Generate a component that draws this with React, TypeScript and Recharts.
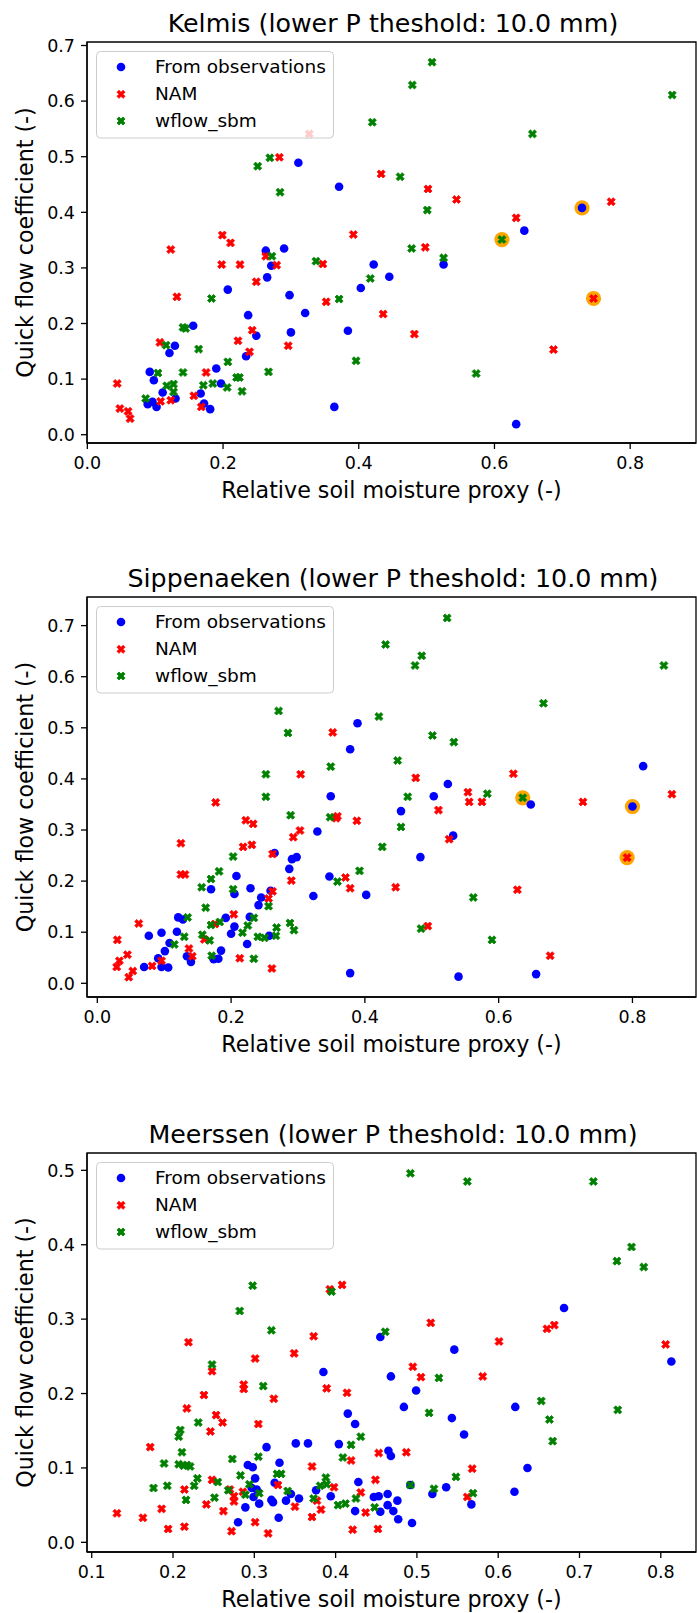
import React from "react";
import { ScatterChart, Scatter, XAxis, YAxis, ReferenceArea, Legend } from "recharts";

type Pt = [number, number];

// Kelmis
const kelmisObs: Pt[] = [
  [0.311, 0.489], [0.371, 0.446], [0.263, 0.331], [0.29, 0.335], [0.271, 0.304], [0.422, 0.306],
  [0.445, 0.284], [0.265, 0.283], [0.207, 0.261], [0.403, 0.264], [0.298, 0.251], [0.321, 0.219],
  [0.237, 0.215], [0.156, 0.196], [0.384, 0.187], [0.3, 0.184], [0.249, 0.178], [0.129, 0.16],
  [0.121, 0.147], [0.234, 0.141], [0.19, 0.119], [0.092, 0.113], [0.098, 0.098], [0.197, 0.092],
  [0.111, 0.076], [0.167, 0.074], [0.13, 0.065], [0.096, 0.059], [0.089, 0.055], [0.102, 0.05],
  [0.172, 0.056], [0.181, 0.046], [0.364, 0.05], [0.525, 0.306], [0.644, 0.367], [0.729, 0.408],
  [0.632, 0.019],
];
const kelmisNam: Pt[] = [
  [0.327, 0.541], [0.283, 0.499], [0.433, 0.469], [0.199, 0.359], [0.211, 0.345], [0.123, 0.333],
  [0.392, 0.36], [0.263, 0.321], [0.198, 0.306], [0.225, 0.306], [0.279, 0.305], [0.347, 0.307],
  [0.249, 0.275], [0.132, 0.248], [0.352, 0.239], [0.436, 0.217], [0.243, 0.188], [0.222, 0.169],
  [0.107, 0.166], [0.296, 0.16], [0.239, 0.149], [0.175, 0.112], [0.044, 0.092], [0.157, 0.07],
  [0.123, 0.062], [0.108, 0.06], [0.168, 0.05], [0.048, 0.047], [0.06, 0.042], [0.063, 0.029],
  [0.502, 0.442], [0.544, 0.423], [0.772, 0.419], [0.632, 0.39], [0.498, 0.337], [0.482, 0.181],
  [0.687, 0.153], [0.746, 0.245],
];
const kelmisWflow: Pt[] = [
  [0.42, 0.562], [0.251, 0.483], [0.269, 0.498], [0.461, 0.464], [0.284, 0.436], [0.272, 0.321],
  [0.337, 0.312], [0.508, 0.67], [0.479, 0.629], [0.862, 0.611], [0.656, 0.541], [0.501, 0.404],
  [0.611, 0.351], [0.478, 0.335], [0.525, 0.318], [0.417, 0.281], [0.183, 0.245], [0.371, 0.244],
  [0.145, 0.191], [0.141, 0.193], [0.116, 0.161], [0.164, 0.154], [0.207, 0.131], [0.396, 0.133],
  [0.104, 0.111], [0.141, 0.112], [0.267, 0.113], [0.22, 0.103], [0.224, 0.103], [0.185, 0.092],
  [0.171, 0.089], [0.127, 0.091], [0.117, 0.088], [0.206, 0.085], [0.127, 0.077], [0.228, 0.078],
  [0.086, 0.065], [0.573, 0.11],
];
const kelmisHigh: Pt[] = [[0.729, 0.408], [0.611, 0.351], [0.746, 0.245]];

// Sippenaeken
const sippObs: Pt[] = [
  [0.389, 0.509], [0.378, 0.458], [0.349, 0.366], [0.816, 0.425], [0.524, 0.39], [0.503, 0.366],
  [0.648, 0.35], [0.8, 0.346], [0.454, 0.337], [0.532, 0.289], [0.483, 0.247], [0.54, 0.013],
  [0.656, 0.018], [0.329, 0.297], [0.265, 0.255], [0.291, 0.243], [0.298, 0.247], [0.287, 0.224],
  [0.208, 0.21], [0.347, 0.209], [0.17, 0.184], [0.229, 0.186], [0.205, 0.175], [0.259, 0.181],
  [0.402, 0.173], [0.323, 0.171], [0.245, 0.168], [0.241, 0.153], [0.121, 0.129], [0.128, 0.125],
  [0.192, 0.128], [0.228, 0.13], [0.205, 0.111], [0.119, 0.101], [0.077, 0.093], [0.096, 0.099],
  [0.2, 0.097], [0.257, 0.093], [0.108, 0.079], [0.224, 0.077], [0.101, 0.063], [0.185, 0.064],
  [0.134, 0.053], [0.091, 0.049], [0.14, 0.042], [0.174, 0.047], [0.181, 0.048], [0.07, 0.032],
  [0.096, 0.032], [0.106, 0.031], [0.378, 0.02],
];
const sippNam: Pt[] = [
  [0.352, 0.491], [0.304, 0.409], [0.177, 0.354], [0.476, 0.402], [0.622, 0.41], [0.554, 0.374],
  [0.556, 0.355], [0.575, 0.355], [0.726, 0.355], [0.859, 0.37], [0.51, 0.339], [0.526, 0.282],
  [0.792, 0.246], [0.446, 0.188], [0.628, 0.183], [0.494, 0.112], [0.677, 0.054], [0.357, 0.323],
  [0.359, 0.327], [0.388, 0.318], [0.222, 0.319], [0.233, 0.312], [0.303, 0.299], [0.293, 0.286],
  [0.125, 0.274], [0.218, 0.267], [0.231, 0.271], [0.262, 0.253], [0.125, 0.213], [0.131, 0.213],
  [0.371, 0.207], [0.29, 0.201], [0.378, 0.186], [0.262, 0.18], [0.256, 0.166], [0.204, 0.135],
  [0.062, 0.117], [0.176, 0.116], [0.03, 0.085], [0.16, 0.086], [0.137, 0.068], [0.045, 0.056],
  [0.142, 0.053], [0.213, 0.049], [0.033, 0.044], [0.096, 0.044], [0.082, 0.034], [0.029, 0.032],
  [0.053, 0.024], [0.047, 0.012], [0.261, 0.029],
];
const sippWflow: Pt[] = [
  [0.431, 0.663], [0.271, 0.533], [0.421, 0.522], [0.285, 0.49], [0.449, 0.436], [0.252, 0.409],
  [0.349, 0.424], [0.252, 0.365], [0.523, 0.715], [0.485, 0.641], [0.475, 0.622], [0.847, 0.622],
  [0.667, 0.548], [0.501, 0.485], [0.533, 0.472], [0.464, 0.365], [0.583, 0.371], [0.636, 0.363],
  [0.454, 0.306], [0.562, 0.168], [0.484, 0.107], [0.59, 0.085], [0.289, 0.329], [0.348, 0.325],
  [0.426, 0.267], [0.203, 0.248], [0.182, 0.219], [0.392, 0.22], [0.17, 0.204], [0.359, 0.199],
  [0.156, 0.188], [0.203, 0.184], [0.256, 0.151], [0.162, 0.148], [0.135, 0.129], [0.234, 0.128],
  [0.183, 0.12], [0.17, 0.114], [0.225, 0.113], [0.288, 0.118], [0.268, 0.109], [0.294, 0.104],
  [0.217, 0.099], [0.13, 0.091], [0.157, 0.095], [0.24, 0.091], [0.25, 0.089], [0.267, 0.093],
  [0.168, 0.084], [0.115, 0.076], [0.171, 0.054], [0.234, 0.048],
];
const sippHigh: Pt[] = [[0.636, 0.363], [0.8, 0.346], [0.792, 0.246]];

// Meerssen
const meerObs: Pt[] = [
  [0.455, 0.276], [0.681, 0.315], [0.546, 0.259], [0.813, 0.243], [0.385, 0.229], [0.468, 0.223],
  [0.415, 0.173], [0.424, 0.159], [0.351, 0.133], [0.366, 0.133], [0.404, 0.132], [0.315, 0.128],
  [0.465, 0.123], [0.468, 0.116], [0.331, 0.107], [0.292, 0.104], [0.298, 0.101], [0.301, 0.086],
  [0.325, 0.08], [0.297, 0.073], [0.303, 0.071], [0.376, 0.07], [0.428, 0.081], [0.345, 0.065],
  [0.447, 0.061], [0.453, 0.062], [0.464, 0.065], [0.476, 0.056], [0.355, 0.059], [0.394, 0.062],
  [0.321, 0.057], [0.323, 0.054], [0.339, 0.056], [0.299, 0.061], [0.306, 0.052], [0.464, 0.05],
  [0.289, 0.047], [0.424, 0.042], [0.455, 0.041], [0.471, 0.042], [0.477, 0.031], [0.33, 0.033],
  [0.28, 0.027], [0.499, 0.204], [0.484, 0.182], [0.621, 0.182], [0.543, 0.167], [0.558, 0.145],
  [0.636, 0.1], [0.492, 0.077], [0.536, 0.074], [0.519, 0.065], [0.62, 0.068], [0.567, 0.051],
  [0.494, 0.026],
];
const meerNam: Pt[] = [
  [0.393, 0.34], [0.408, 0.346], [0.373, 0.277], [0.219, 0.269], [0.349, 0.254], [0.301, 0.247],
  [0.517, 0.295], [0.66, 0.287], [0.669, 0.292], [0.601, 0.27], [0.806, 0.266], [0.248, 0.23],
  [0.287, 0.212], [0.287, 0.206], [0.389, 0.207], [0.238, 0.198], [0.414, 0.201], [0.324, 0.193],
  [0.217, 0.18], [0.253, 0.171], [0.261, 0.161], [0.305, 0.159], [0.246, 0.149], [0.172, 0.128],
  [0.453, 0.12], [0.419, 0.11], [0.371, 0.102], [0.248, 0.084], [0.329, 0.077], [0.398, 0.074],
  [0.27, 0.071], [0.431, 0.067], [0.449, 0.084], [0.286, 0.068], [0.275, 0.062], [0.377, 0.056],
  [0.275, 0.055], [0.214, 0.071], [0.241, 0.051], [0.35, 0.048], [0.186, 0.045], [0.382, 0.044],
  [0.371, 0.034], [0.437, 0.04], [0.262, 0.042], [0.131, 0.039], [0.163, 0.033], [0.301, 0.027],
  [0.194, 0.018], [0.214, 0.021], [0.272, 0.015], [0.317, 0.012], [0.421, 0.017], [0.452, 0.018],
  [0.495, 0.236], [0.505, 0.222], [0.581, 0.223], [0.487, 0.121], [0.568, 0.099], [0.562, 0.061],
];
const meerWflow: Pt[] = [
  [0.298, 0.345], [0.395, 0.337], [0.282, 0.311], [0.321, 0.285], [0.461, 0.283], [0.492, 0.496],
  [0.562, 0.485], [0.717, 0.485], [0.764, 0.397], [0.746, 0.378], [0.779, 0.37], [0.248, 0.239],
  [0.311, 0.21], [0.231, 0.161], [0.209, 0.151], [0.207, 0.142], [0.431, 0.142], [0.419, 0.131],
  [0.211, 0.121], [0.409, 0.114], [0.305, 0.115], [0.273, 0.112], [0.189, 0.106], [0.207, 0.105],
  [0.213, 0.103], [0.221, 0.102], [0.217, 0.104], [0.23, 0.086], [0.283, 0.09], [0.328, 0.092],
  [0.333, 0.092], [0.388, 0.087], [0.255, 0.081], [0.294, 0.078], [0.381, 0.076], [0.389, 0.078],
  [0.193, 0.076], [0.226, 0.076], [0.176, 0.073], [0.268, 0.07], [0.341, 0.069], [0.289, 0.064],
  [0.306, 0.066], [0.251, 0.06], [0.373, 0.059], [0.425, 0.059], [0.216, 0.057], [0.403, 0.05],
  [0.412, 0.052], [0.448, 0.047], [0.527, 0.221], [0.653, 0.19], [0.747, 0.178], [0.515, 0.174],
  [0.663, 0.165], [0.667, 0.136], [0.548, 0.088], [0.492, 0.077], [0.521, 0.072], [0.569, 0.066],
];
const meerHigh: Pt[] = [];

const xTicks08 = [0, 0.2, 0.4, 0.6, 0.8];
const xTicksMeer = [0.1, 0.2, 0.3, 0.4, 0.5, 0.6, 0.7, 0.8];
const yTicks07 = [0, 0.1, 0.2, 0.3, 0.4, 0.5, 0.6, 0.7];
const yTicks05 = [0, 0.1, 0.2, 0.3, 0.4, 0.5];

const FONT = "'DejaVu Sans', sans-serif";
const W = 697;
const X_AXIS_H = 70;
const BLUE = "#0000ff";
const RED = "#ff0000";
const GREEN = "#008000";
const ORANGE = "#ffa500";

const toXY = (pts: Pt[]) => pts.map(([x, y]) => ({ x, y }));

// matplotlib "X" marker: filled plus rotated by 45 degrees
const xPath = (cx: number, cy: number, size: number) => {
  const k = size / 6;
  const c = Math.SQRT1_2;
  const base = [[-1, -3], [-1, -1], [-3, -1], [-3, 1], [-1, 1], [-1, 3], [1, 3], [1, 1], [3, 1], [3, -1], [1, -1], [1, -3]];
  return (
    base
      .map(([u, v], i) => {
        const px = cx + (u - v) * c * k;
        const py = cy + (u + v) * c * k;
        return `${i ? "L" : "M"}${px.toFixed(2)},${py.toFixed(2)}`;
      })
      .join("") + "Z"
  );
};

const XShape = (props: any) => {
  const { cx, cy, fill } = props;
  if (cx == null || cy == null) return <g />;
  return <path d={xPath(cx, cy, 8.6)} fill={fill} stroke={fill} strokeWidth={0.8} />;
};

const DotShape = (props: any) => {
  const { cx, cy, fill } = props;
  if (cx == null || cy == null) return <g />;
  return <circle cx={cx} cy={cy} r={4.3} fill={fill} />;
};

const HighShape = (props: any) => {
  const { cx, cy } = props;
  if (cx == null || cy == null) return <g />;
  return <circle cx={cx} cy={cy} r={7.6} fill={ORANGE} />;
};

const LegendBox = () => (
  <svg width={239} height={88} style={{ display: "block" }}>
    <rect x={0.5} y={0.5} width={237} height={86.5} rx={4} ry={4} fill="#ffffff" fillOpacity={0.8} stroke="#cccccc" strokeWidth={1} />
    <circle cx={25} cy={16} r={4.3} fill={BLUE} />
    <path d={xPath(25, 43.3, 8.6)} fill={RED} stroke={RED} strokeWidth={0.8} />
    <path d={xPath(25, 70, 8.6)} fill={GREEN} stroke={GREEN} strokeWidth={0.8} />
    <text x={59} y={22} fontSize={18.5} fontFamily={FONT} fill="#000">From observations</text>
    <text x={59} y={48.8} fontSize={18.5} fontFamily={FONT} fill="#000">NAM</text>
    <text x={59} y={75.5} fontSize={18.5} fontFamily={FONT} fill="#000">wflow_sbm</text>
  </svg>
);

interface PanelProps {
  title: string;
  top: number;
  plotTop: number;
  plotBottom: number;
  xDomain: [number, number];
  yDomain: [number, number];
  xTicks: number[];
  yTicks: number[];
  obs: Pt[];
  nam: Pt[];
  wflow: Pt[];
  high: Pt[];
}

const Panel: React.FC<PanelProps> = (p) => {
  const height = p.plotBottom - p.top + X_AXIS_H;
  const mTop = p.plotTop - p.top;
  return (
    <div style={{ position: "absolute", left: 0, top: p.top }}>
      <ScatterChart width={W} height={height} margin={{ top: mTop, right: 1, bottom: 0, left: 0 }}>
        <XAxis
          type="number"
          dataKey="x"
          domain={p.xDomain}
          allowDataOverflow
          ticks={p.xTicks}
          interval={0}
          tickFormatter={(v: number) => v.toFixed(1)}
          height={X_AXIS_H}
          stroke="#000"
          strokeWidth={1.3}
          tickSize={6}
          tickMargin={8}
          tick={{ fill: "#000", fontSize: 17.5, fontFamily: FONT }}
          label={{
            value: "Relative soil moisture proxy (-)",
            position: "insideBottom",
            offset: X_AXIS_H - 55,
            fill: "#000",
            fontSize: 22.2,
            fontFamily: FONT,
          }}
        />
        <YAxis
          type="number"
          dataKey="y"
          domain={p.yDomain}
          allowDataOverflow
          ticks={p.yTicks}
          interval={0}
          tickFormatter={(v: number) => v.toFixed(1)}
          width={87}
          stroke="#000"
          strokeWidth={1.3}
          tickSize={6}
          tickMargin={6}
          tick={{ fill: "#000", fontSize: 17.5, fontFamily: FONT }}
          label={{
            value: "Quick flow coefficient (-)",
            angle: -90,
            position: "insideLeft",
            offset: 25,
            style: { textAnchor: "middle" },
            fill: "#000",
            fontSize: 22.2,
            fontFamily: FONT,
          }}
        />
        <ReferenceArea
          x1={p.xDomain[0]}
          x2={p.xDomain[1]}
          y1={p.yDomain[0]}
          y2={p.yDomain[1]}
          fill="none"
          stroke="#000"
          strokeWidth={1.3}
          ifOverflow="visible"
        />
        <Scatter name="highlight" data={toXY(p.high)} fill={ORANGE} shape={HighShape} isAnimationActive={false} />
        <Scatter name="From observations" data={toXY(p.obs)} fill={BLUE} shape={DotShape} isAnimationActive={false} />
        <Scatter name="NAM" data={toXY(p.nam)} fill={RED} shape={XShape} isAnimationActive={false} />
        <Scatter name="wflow_sbm" data={toXY(p.wflow)} fill={GREEN} shape={XShape} isAnimationActive={false} />
        <Legend
          layout="vertical"
          align="center"
          verticalAlign="middle"
          content={() => <LegendBox />}
          wrapperStyle={{ left: 96, top: mTop + 9, width: 239, height: 88 }}
        />
        <text x={393} y={mTop - 10.5} textAnchor="middle" fontSize={25.3} fontFamily={FONT} fill="#000">
          {p.title}
        </text>
      </ScatterChart>
    </div>
  );
};

export default function App() {
  return (
    <div style={{ position: "absolute", left: 0, top: 0, width: W, height: 1613, overflow: "hidden", background: "#fff", fontFamily: FONT }}>
      <Panel
        title="Kelmis (lower P theshold: 10.0 mm)"
        top={0}
        plotTop={42}
        plotBottom={443}
        xDomain={[-0.0005, 0.897]}
        yDomain={[-0.0149, 0.7063]}
        xTicks={xTicks08}
        yTicks={yTicks07}
        obs={kelmisObs}
        nam={kelmisNam}
        wflow={kelmisWflow}
        high={kelmisHigh}
      />
      <Panel
        title="Sippenaeken (lower P theshold: 10.0 mm)"
        top={555}
        plotTop={597}
        plotBottom={997}
        xDomain={[-0.0154, 0.895]}
        yDomain={[-0.0268, 0.756]}
        xTicks={xTicks08}
        yTicks={yTicks07}
        obs={sippObs}
        nam={sippNam}
        wflow={sippWflow}
        high={sippHigh}
      />
      <Panel
        title="Meerssen (lower P theshold: 10.0 mm)"
        top={1110}
        plotTop={1153}
        plotBottom={1552}
        xDomain={[0.0942, 0.8433]}
        yDomain={[-0.013, 0.5233]}
        xTicks={xTicksMeer}
        yTicks={yTicks05}
        obs={meerObs}
        nam={meerNam}
        wflow={meerWflow}
        high={meerHigh}
      />
    </div>
  );
}
